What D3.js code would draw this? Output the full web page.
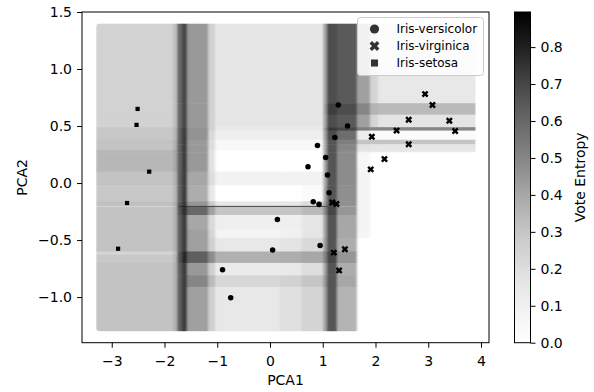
<!DOCTYPE html>
<html>
<head>
<meta charset="utf-8">
<script src="https://cdn.jsdelivr.net/npm/d3@7"></script>
<style>
  body { margin: 0; background: #fff; }
  svg { display: block; font-family: "DejaVu Sans", sans-serif; }
</style>
</head>
<body>
<div id="chart"></div>
<script>
// grid of the vote entropy background (PCA1 / PCA2 cell edges)
const xEdges = [-3.30, -1.84, -1.76, -1.67, -1.57, -1.17, -1.04, 0.19, 0.60, 1.01, 1.08, 1.27, 1.65, 1.90, 2.05, 3.90];
const yEdges = [1.40, 0.70, 0.60, 0.49, 0.46, 0.38, 0.34, 0.29, 0.27, 0.10, -0.02, -0.16, -0.20, -0.21, -0.28, -0.41, -0.48, -0.60, -0.63, -0.70, -0.81, -0.91, -1.30];
const entropy = [
  [.25,.32,.60,.70,.44,.25,.16,.16,.16,.42,.68,.64,.42,.24,.15],
  [.25,.32,.60,.70,.44,.25,.16,.16,.16,.44,.72,.68,.50,.36,.34],
  [.25,.32,.60,.70,.44,.25,.16,.16,.16,.42,.68,.64,.42,.24,.17],
  [.29,.35,.62,.72,.46,.26,.14,.14,.14,.46,.74,.70,.52,.50,.50],
  [.29,.35,.62,.72,.46,.22,.11,.11,.11,.42,.68,.58,.12,.04,.03],
  [.31,.37,.62,.72,.44,.20,.05,.05,.05,.40,.66,.52,.30,.30,.30],
  [.31,.37,.62,.72,.44,.20,.05,.05,.05,.40,.66,.50,.18,.16,.16],
  [.35,.40,.62,.72,.44,.18,0,0,0,.40,.66,.48,.15,.15,.15],
  [.35,.40,.62,.72,.44,.18,0,0,0,.40,.66,.48,.06,0,0],
  [.31,.36,.62,.72,.40,.20,.09,.09,.09,.40,.66,.48,.08,0,0],
  [.29,.35,.62,.72,.38,.15,0,0,.03,.42,.66,.47,.08,0,0],
  [.32,.37,.64,.74,.45,.28,.15,.15,.20,.45,.68,.47,.08,0,0],
  [.24,.32,.75,.80,.70,.68,.66,.66,.66,.68,.68,.40,.08,0,0],
  [.31,.36,.66,.76,.60,.42,.30,.30,.34,.50,.70,.45,.08,0,0],
  [.31,.36,.62,.72,.40,.22,.11,.11,.16,.42,.66,.40,.08,0,0],
  [.31,.36,.62,.72,.42,.24,.08,.10,.16,.42,.66,.40,.07,0,0],
  [.31,.36,.62,.72,.42,.26,.15,.17,.22,.44,.66,.38,0,0,0],
  [.24,.32,.66,.78,.63,.48,.37,.38,.40,.52,.70,.45,0,0,0],
  [.29,.35,.66,.78,.63,.48,.37,.38,.40,.52,.70,.45,0,0,0],
  [.31,.36,.62,.72,.44,.26,.13,.15,.20,.42,.66,.38,0,0,0],
  [.31,.36,.62,.72,.50,.34,.23,.25,.30,.46,.66,.40,0,0,0],
  [.31,.36,.62,.72,.42,.26,.15,.19,.24,.42,.66,.36,0,0,0]
];

const versicolor = [
  [-0.90, -0.76], [-0.745, -1.005], [0.05, -0.588], [0.14, -0.32], [0.95, -0.547],
  [0.82, -0.164], [0.93, -0.187], [1.12, -0.085], [1.09, 0.07], [1.295, 0.684],
  [1.47, 0.50], [1.23, 0.40], [0.90, 0.33], [1.055, 0.225], [0.72, 0.143]
];
const virginica = [
  [1.18, -0.17], [1.26, -0.184], [1.21, -0.61], [1.42, -0.58], [1.31, -0.766],
  [2.94, 0.78], [3.08, 0.684], [2.63, 0.555], [3.40, 0.547], [2.40, 0.46],
  [3.51, 0.456], [1.93, 0.406], [2.63, 0.34], [2.17, 0.21], [1.91, 0.12]
];
const setosa = [
  [-2.51, 0.65], [-2.53, 0.51], [-2.29, 0.10], [-2.71, -0.175], [-2.88, -0.576]
];

const classes = ['Iris-versicolor', 'Iris-virginica', 'Iris-setosa'];
const xTicks = [-3, -2, -1, 0, 1, 2, 3, 4];
const yTicks = [-1.0, -0.5, 0.0, 0.5, 1.0, 1.5];
const cbarTicks = [0.0, 0.1, 0.2, 0.3, 0.4, 0.5, 0.6, 0.7, 0.8];
const entropyMax = 0.895;

const width = 594, height = 392;
const plot = { left: 82, right: 489, top: 12, bottom: 342.7 };
const cbar = { left: 514.5, right: 530.5 };

const svg = d3.select('#chart').append('svg')
  .attr('width', width)
  .attr('height', height);

const x = d3.scaleLinear().domain([-3.564, 4.152]).range([plot.left, plot.right]);
const y = d3.scaleLinear().domain([-1.40, 1.50]).range([plot.bottom, plot.top]);
const color = d3.scaleSequential(d3.interpolateGreys).domain([0, entropyMax]);

const defs = svg.append('defs');
defs.append('filter').attr('id', 'soft')
  .attr('x', '-5%').attr('width', '110%')
  .append('feGaussianBlur').attr('stdDeviation', '1.3 0');
defs.append('clipPath').attr('id', 'heatClip')
  .append('rect')
  .attr('x', x(xEdges[0]))
  .attr('y', y(yEdges[0]))
  .attr('width', x(xEdges[xEdges.length - 1]) - x(xEdges[0]))
  .attr('height', y(yEdges[yEdges.length - 1]) - y(yEdges[0]))
  .attr('rx', 4);

// background heatmap
const cells = [];
entropy.forEach((row, i) => row.forEach((v, j) => {
  cells.push({ x0: xEdges[j], x1: xEdges[j + 1], y0: yEdges[i], y1: yEdges[i + 1], v });
}));

svg.append('g').attr('clip-path', 'url(#heatClip)')
  .append('g').attr('filter', 'url(#soft)')
  .selectAll('rect')
  .data(cells)
  .enter()
  .append('rect')
  .attr('x', d => x(d.x0))
  .attr('y', d => y(d.y0))
  .attr('width', d => x(d.x1) - x(d.x0) + 0.5)
  .attr('height', d => y(d.y1) - y(d.y0) + 0.5)
  .attr('fill', d => color(d.v));

// axes
const xAxis = svg.append('g')
  .attr('transform', `translate(0,${plot.bottom})`)
  .call(d3.axisBottom(x).tickValues(xTicks).tickFormat(d3.format('d')).tickSize(5).tickPadding(8));
const yAxis = svg.append('g')
  .attr('transform', `translate(${plot.left},0)`)
  .call(d3.axisLeft(y).tickValues(yTicks).tickFormat(d3.format('.1f')).tickSize(5).tickPadding(5));

[xAxis, yAxis].forEach(a => {
  a.select('.domain').remove();
  a.selectAll('text').style('font-size', '14px').style('fill', '#000')
    .style('font-family', '"DejaVu Sans", sans-serif');
  a.selectAll('line').attr('stroke', '#000');
});

svg.append('rect')
  .attr('x', plot.left).attr('y', plot.top)
  .attr('width', plot.right - plot.left)
  .attr('height', plot.bottom - plot.top)
  .attr('fill', 'none')
  .attr('stroke', '#000')
  .attr('stroke-width', 1);

svg.append('text')
  .attr('x', (plot.left + plot.right) / 2)
  .attr('y', 385)
  .attr('text-anchor', 'middle')
  .style('font-size', '14px')
  .text('PCA1');

svg.append('text')
  .attr('transform', `translate(26.5,${(plot.top + plot.bottom) / 2}) rotate(-90)`)
  .attr('text-anchor', 'middle')
  .style('font-size', '14px')
  .text('PCA2');

// points
const symbols = {
  'Iris-versicolor': d3.symbol().type(d3.symbolCircle),
  'Iris-virginica': d3.symbol().type(d3.symbolCross),
  'Iris-setosa': d3.symbol().type(d3.symbolSquare)
};
const rotation = { 'Iris-versicolor': 0, 'Iris-virginica': 45, 'Iris-setosa': 0 };
const pointSize = { 'Iris-versicolor': 24, 'Iris-virginica': 30, 'Iris-setosa': 18 };
const legendSize = { 'Iris-versicolor': 66, 'Iris-virginica': 62, 'Iris-setosa': 50 };
const series = { 'Iris-versicolor': versicolor, 'Iris-virginica': virginica, 'Iris-setosa': setosa };

classes.forEach(c => {
  svg.append('g')
    .selectAll('path')
    .data(series[c])
    .enter()
    .append('path')
    .attr('transform', d => `translate(${x(d[0])},${y(d[1])}) rotate(${rotation[c]})`)
    .attr('d', symbols[c].size(pointSize[c])())
    .attr('fill', '#000');
});

// legend
const legend = svg.append('g').attr('transform', 'translate(357.5,17.5)');
legend.append('rect')
  .attr('width', 126).attr('height', 58).attr('rx', 3)
  .attr('fill', '#fff').attr('fill-opacity', 0.85)
  .attr('stroke', '#cccccc');
classes.forEach((c, i) => {
  const g = legend.append('g').attr('transform', `translate(0,${11.5 + i * 17})`);
  g.append('path')
    .attr('transform', `translate(17,0) rotate(${rotation[c]})`)
    .attr('d', symbols[c].size(legendSize[c])())
    .attr('fill', '#333');
  g.append('text')
    .attr('x', 39).attr('dy', '0.35em')
    .style('font-size', '12px')
    .text(c);
});

// colorbar
const cy = d3.scaleLinear().domain([0, entropyMax]).range([plot.bottom, plot.top]);
const grad = defs.append('linearGradient').attr('id', 'cbarGrad')
  .attr('x1', 0).attr('y1', 1).attr('x2', 0).attr('y2', 0);
d3.range(0, 1.0001, 0.05).forEach(t => {
  grad.append('stop').attr('offset', t).attr('stop-color', color(t * entropyMax));
});
svg.append('rect')
  .attr('x', cbar.left).attr('y', plot.top)
  .attr('width', cbar.right - cbar.left)
  .attr('height', plot.bottom - plot.top)
  .attr('fill', 'url(#cbarGrad)')
  .attr('stroke', '#000').attr('stroke-width', 1);

const cAxis = svg.append('g')
  .attr('transform', `translate(${cbar.right},0)`)
  .call(d3.axisRight(cy).tickValues(cbarTicks).tickFormat(d3.format('.1f')).tickSize(5).tickPadding(5));
cAxis.select('.domain').remove();
cAxis.selectAll('text').style('font-size', '14px').style('fill', '#000')
  .style('font-family', '"DejaVu Sans", sans-serif');
cAxis.selectAll('line').attr('stroke', '#000');

svg.append('text')
  .attr('transform', `translate(585,${(plot.top + plot.bottom) / 2}) rotate(-90)`)
  .attr('text-anchor', 'middle')
  .style('font-size', '14px')
  .text('Vote Entropy');
</script>
</body>
</html>
